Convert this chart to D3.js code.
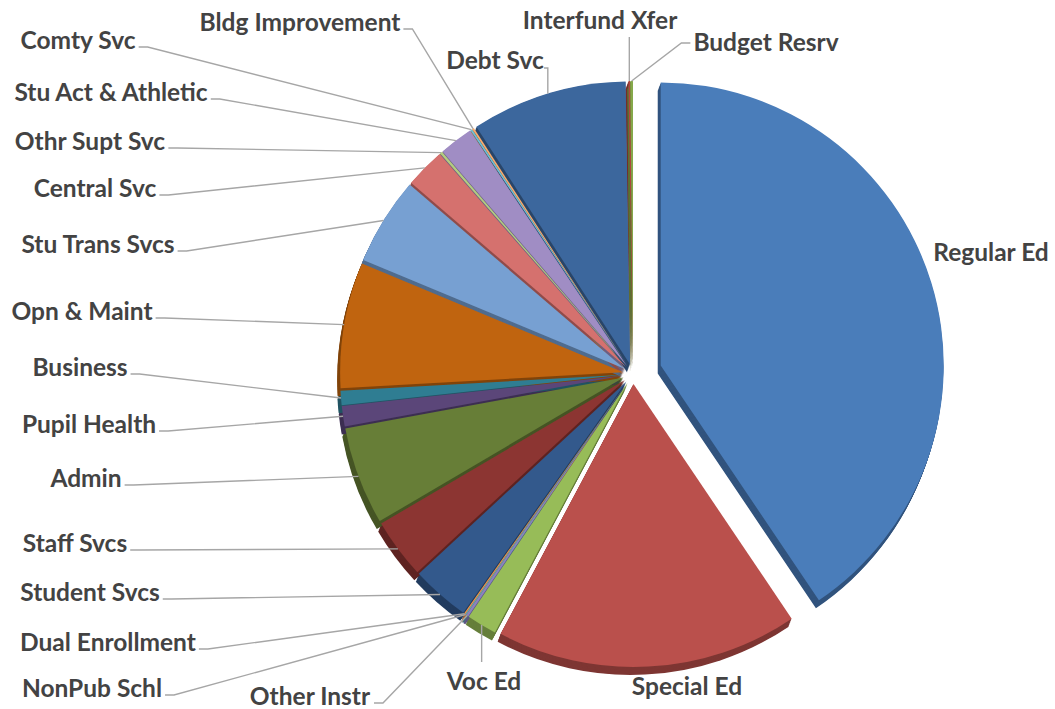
<!DOCTYPE html>
<html><head><meta charset="utf-8">
<script src="https://cdn.jsdelivr.net/npm/d3@7"></script>
<style>html,body{margin:0;padding:0;background:#fff}</style>
</head><body><svg id="chart" width="1055" height="709"></svg>
<script>
// ---- data (percent of total budget) ----
const categories = ["Regular Ed","Special Ed","Voc Ed","Other Instr","NonPub Schl","Dual Enrollment",
  "Student Svcs","Staff Svcs","Admin","Pupil Health","Business","Opn & Maint",
  "Stu Trans Svcs","Central Svc","Othr Supt Svc","Stu Act & Athletic","Comty Svc","Bldg Improvement",
  "Debt Svc","Interfund Xfer","Budget Resrv"];
const shares = [40.56,17.22,1.72,0.14,0.07,0.07,
  3.33,3.42,5.58,1.17,0.83,7.17,
  5.00,2.28,0.14,1.94,0.11,0.11,
  8.89,0.10,0.15];
const colors = ["#4a7dba","#ba504c","#97bc58","#8b80c2","#4bacc6","#f79646",
  "#33598c","#8c3532","#677e37","#5b4679","#2f7d92","#c0640f",
  "#77a0d2","#d5716e","#b3cc80","#a08dc4","#70bfd4","#f9ab6b",
  "#3c679d","#b0443f","#85a94a"];

// ---- layout / style ----
const cx = 633, cy = 374, R = 283, baseExplode = 10;
const explode = {"Regular Ed": 29};
const side = [-3, 8];
const fontSize = 24.5;
const labelPos = {
  "Regular Ed": [991, 252, "none"], "Special Ed": [687, 686, "none"],
  "Voc Ed": [484, 681, "up"], "Other Instr": [310, 696, "left"],
  "NonPub Schl": [92, 688, "left"], "Dual Enrollment": [108, 642, "left"],
  "Student Svcs": [90, 592, "left"], "Staff Svcs": [75, 543, "left"],
  "Admin": [86, 478, "left"], "Pupil Health": [89, 424, "left"],
  "Business": [80, 367, "left"], "Opn & Maint": [82, 311, "left"],
  "Stu Trans Svcs": [98, 244, "left"], "Central Svc": [95, 188, "left"],
  "Othr Supt Svc": [90, 141, "left"], "Stu Act & Athletic": [111, 92, "left"],
  "Comty Svc": [78, 40, "left"], "Bldg Improvement": [300, 22, "left"],
  "Debt Svc": [495, 60, "elbowDown"], "Interfund Xfer": [600, 20, "down"],
  "Budget Resrv": [766, 42, "right"]
};

const svg = d3.select("#chart");
const data = categories.map((c, i) => ({name: c, value: shares[i], color: colors[i]}));
const pie = d3.pie().value(d => d.value).sort(null).startAngle(0).endAngle(2 * Math.PI);
const arcs = pie(data);
const arc = d3.arc().innerRadius(0).outerRadius(R);

function mid(a) { return (a.startAngle + a.endAngle) / 2; }
function center(a) {
  const m = mid(a), e = explode[a.data.name] ?? baseExplode;
  return [cx + e * Math.sin(m), cy - e * Math.cos(m)];
}
function rim(a) {
  const c = center(a), m = mid(a);
  return [c[0] + R * Math.sin(m), c[1] - R * Math.cos(m)];
}

// side walls (extrusion)
const sides = svg.append("g");
const steps = 9;
arcs.forEach(a => {
  const c = center(a);
  const col = d3.color(a.data.color).darker(1.1).formatHex();
  for (let s = steps; s >= 1; s--) {
    const t = s / steps;
    sides.append("path")
      .attr("d", arc(a))
      .attr("transform", `translate(${c[0] + side[0] * t},${c[1] + side[1] * t})`)
      .attr("fill", col);
  }
});
// top faces
svg.append("g").selectAll("path").data(arcs).join("path")
  .attr("d", arc)
  .attr("transform", d => { const c = center(d); return `translate(${c[0]},${c[1]})`; })
  .attr("fill", d => d.data.color);

// labels + leader lines
const lab = svg.append("g");
const lines = svg.append("g").attr("fill", "none").attr("stroke", "#a6a6a6").attr("stroke-width", 1.4);
arcs.forEach(a => {
  const p = labelPos[a.data.name];
  const t = lab.append("text")
    .attr("x", p[0]).attr("y", p[1]).attr("dy", "0.35em")
    .attr("text-anchor", "middle")
    .attr("font-family", "Lato, 'Open Sans', sans-serif")
    .attr("font-weight", 700).attr("font-size", fontSize)
    .attr("fill", "#434343")
    .text(a.data.name);
  const bb = t.node().getBBox();
  const r = rim(a);
  let pts = null;
  const y = p[1];
  if (p[2] === "left") {
    const x1 = bb.x + bb.width + 3;
    pts = [[x1, y + 7], [x1 + 9, y + 7], r];
  } else if (p[2] === "right") {
    const x0 = bb.x - 3;
    pts = [[x0, y + 1], [x0 - 9, y + 1], r];
  } else if (p[2] === "elbowDown") {
    const x1 = bb.x + bb.width;
    pts = [[x1, y + 8], [r[0], y + 8], r];
  } else if (p[2] === "down") {
    pts = [[r[0], y + 17], r];
  } else if (p[2] === "up") {
    pts = [[r[0], y - 19], r];
  }
  if (pts) lines.append("path").attr("d", d3.line()(pts));
});
</script></body></html>
